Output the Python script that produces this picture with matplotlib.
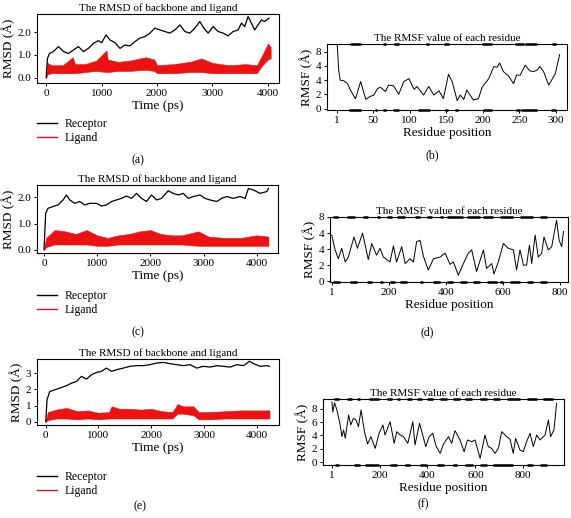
import numpy as np
import matplotlib
matplotlib.use("Agg")
import matplotlib.pyplot as plt
from matplotlib.lines import Line2D

plt.rcParams['font.family'] = ['Liberation Serif', 'DejaVu Serif']
plt.rcParams['font.size'] = 8

# ---------- RMSD data (a) ----------
a_rec_t = [0, 24, 60, 132, 222, 312, 402, 492, 582, 672, 762, 852, 942, 1002, 1080, 1152,
           1242, 1332, 1422, 1512, 1602, 1692, 1782, 1872, 1962, 2052, 2142, 2232, 2322,
           2412, 2502, 2592, 2682, 2772, 2844, 2922, 3012, 3102, 3192, 3282, 3372, 3462,
           3522, 3582, 3642, 3702, 3762, 3822, 3882, 3942, 4020]
a_rec_v = [0.0, 0.85, 1.07, 1.15, 1.37, 1.15, 1.07, 1.22, 1.37, 1.15, 1.29, 1.51, 1.63, 1.54,
           1.88, 1.66, 1.54, 1.29, 1.44, 1.40, 1.59, 1.74, 1.81, 1.96, 2.18, 2.10, 2.03, 1.96,
           2.10, 2.32, 2.03, 1.96, 2.18, 2.47, 2.18, 1.96, 2.25, 2.03, 1.96, 1.84, 2.03, 2.10,
           2.40, 2.25, 2.69, 2.40, 2.10, 2.32, 2.54, 2.47, 2.62]
a_lig_t = [0, 24, 100, 300, 480, 520, 700, 900, 1090, 1110, 1300, 1500, 1800, 1950, 2000,
           2300, 2600, 2800, 3000, 3300, 3600, 3800, 3900, 4000, 4050]
a_lig_lo = [0.0, 0.15, 0.2, 0.2, 0.2, 0.2, 0.25, 0.3, 0.25, 0.25, 0.3, 0.3, 0.35, 0.3, 0.2,
            0.2, 0.25, 0.25, 0.2, 0.2, 0.2, 0.2, 0.55, 0.8, 0.85]
a_lig_hi = [0.1, 0.65, 0.55, 0.55, 0.9, 0.6, 0.6, 0.75, 1.2, 0.8, 0.7, 0.75, 0.9, 0.8, 0.55,
            0.6, 0.7, 0.85, 0.65, 0.55, 0.6, 0.55, 1.0, 1.5, 1.35]

# ---------- RMSD data (c) ----------
c_rec_t = [0, 31, 75, 170, 264, 358, 421, 484, 578, 672, 766, 860, 986, 1080, 1174, 1269,
           1363, 1457, 1551, 1645, 1740, 1834, 1928, 2022, 2116, 2211, 2336, 2430, 2525,
           2619, 2713, 2807, 2933, 3027, 3121, 3247, 3341, 3435, 3561, 3687, 3781, 3844,
           3938, 4063, 4189, 4220]
c_rec_v = [0.0, 1.39, 1.58, 1.65, 1.71, 1.90, 2.09, 1.90, 1.77, 1.84, 1.71, 1.77, 1.77, 1.67,
           1.71, 1.84, 1.90, 1.96, 2.05, 1.96, 2.15, 1.96, 1.84, 2.09, 1.90, 1.96, 2.25, 2.15,
           2.09, 2.15, 1.96, 2.03, 2.09, 1.96, 1.90, 1.84, 1.96, 2.03, 1.96, 2.03, 1.96, 2.34,
           2.28, 2.15, 2.22, 2.34]
c_lig_t = [0, 40, 200, 400, 600, 800, 1000, 1200, 1400, 1600, 1800, 2000, 2200, 2400, 2600,
           2900, 3100, 3400, 3700, 4000, 4220]
c_lig_lo = [0.0, 0.1, 0.2, 0.2, 0.2, 0.2, 0.15, 0.15, 0.2, 0.2, 0.2, 0.2, 0.2, 0.2, 0.2,
            0.15, 0.15, 0.15, 0.15, 0.15, 0.15]
c_lig_hi = [0.05, 0.45, 0.75, 0.7, 0.6, 0.75, 0.55, 0.45, 0.55, 0.6, 0.7, 0.75, 0.6, 0.55,
            0.55, 0.7, 0.5, 0.45, 0.45, 0.55, 0.5]

# ---------- RMSD data (e) ----------
e_rec_t = [0, 25, 76, 171, 297, 392, 487, 582, 677, 772, 867, 962, 1057, 1152, 1247, 1342,
           1469, 1595, 1722, 1848, 1975, 2102, 2228, 2355, 2481, 2608, 2735, 2861, 2988,
           3114, 3241, 3368, 3494, 3621, 3747, 3861, 3937, 4064, 4190, 4241]
e_rec_v = [0.0, 1.35, 1.86, 1.97, 2.11, 2.22, 2.38, 2.48, 2.80, 2.63, 2.90, 3.04, 3.11, 3.31,
           3.11, 3.21, 3.31, 3.42, 3.46, 3.46, 3.52, 3.62, 3.66, 3.58, 3.52, 3.46, 3.52, 3.31,
           3.42, 3.37, 3.46, 3.42, 3.37, 3.52, 3.46, 3.73, 3.58, 3.42, 3.46, 3.42]
e_lig_t = [0, 40, 200, 400, 600, 800, 1000, 1200, 1250, 1400, 1600, 1800, 2000, 2200, 2400,
           2500, 2600, 2800, 2900, 3100, 3400, 3700, 4000, 4240]
e_lig_lo = [0.0, 0.1, 0.2, 0.2, 0.15, 0.2, 0.15, 0.2, 0.2, 0.2, 0.2, 0.2, 0.2, 0.2, 0.2,
            0.5, 0.5, 0.4, 0.15, 0.15, 0.2, 0.2, 0.2, 0.2]
e_lig_hi = [0.05, 0.6, 0.75, 0.85, 0.65, 0.7, 0.55, 0.6, 0.95, 0.8, 0.8, 0.75, 0.8, 0.65,
            0.6, 1.1, 0.95, 0.95, 0.6, 0.6, 0.65, 0.7, 0.7, 0.7]

# ---------- RMSF data (b) ----------
b_res = [1, 3, 5, 10, 15, 19, 24, 26, 33, 40, 46, 51, 56, 60, 67, 71, 78, 85, 92, 99, 106,
         110, 119, 126, 133, 140, 146, 153, 158, 165, 169, 174, 178, 187, 194, 199, 208, 215,
         219, 223, 228, 235, 242, 246, 251, 258, 264, 269, 274, 278, 283, 290, 294, 299, 305]
b_val = [8.9, 5.4, 4.0, 3.9, 3.5, 2.6, 1.7, 1.4, 3.8, 1.3, 1.7, 1.9, 2.8, 3.0, 2.4, 3.3, 3.2,
         2.0, 3.8, 4.2, 2.7, 3.1, 1.9, 3.1, 1.9, 2.5, 1.4, 4.8, 3.8, 1.1, 1.9, 1.3, 2.6, 1.2,
         1.4, 3.0, 4.2, 5.9, 5.8, 6.4, 5.2, 4.6, 3.5, 4.7, 4.7, 6.1, 5.3, 5.2, 5.4, 5.9, 5.2,
         3.3, 4.0, 4.9, 7.6]
b_top = [(18, 34), (63, 68), (79, 85), (122, 127), (147, 154), (199, 213), (244, 256),
         (258, 274), (294, 300)]
b_bot = [(17, 33), (53, 56), (64, 68), (77, 86), (112, 128), (148, 153), (162, 166),
         (200, 213), (245, 251), (252, 274), (293, 300)]

# ---------- RMSF data (d) ----------
d_res = [1, 13, 24, 36, 48, 59, 79, 91, 109, 129, 141, 158, 170, 182, 205, 217, 228, 246,
         258, 275, 287, 298, 310, 322, 339, 357, 380, 398, 415, 427, 444, 462, 479, 491, 508,
         532, 543, 561, 569, 584, 602, 619, 637, 648, 660, 672, 683, 693, 701, 713, 724, 736,
         744, 759, 771, 788, 797, 806, 812]
d_val = [5.75, 3.9, 2.8, 4.1, 2.4, 3.0, 5.5, 4.1, 6.0, 2.7, 4.7, 3.25, 4.1, 3.0, 2.4, 4.4,
         2.4, 4.3, 2.2, 2.8, 2.4, 4.9, 5.1, 3.1, 1.4, 2.8, 3.0, 3.5, 2.1, 2.4, 0.75, 2.2, 3.5,
         3.9, 1.2, 3.9, 1.6, 2.2, 0.9, 2.4, 4.7, 4.1, 3.9, 1.4, 3.9, 2.0, 2.0, 4.5, 2.2, 5.75,
         3.0, 3.5, 5.5, 3.9, 4.3, 7.6, 5.1, 4.3, 6.2]
d_top = [(7, 24), (54, 83), (112, 129), (158, 170), (193, 211), (228, 257), (292, 310),
         (333, 351), (380, 392), (403, 462), (473, 520), (532, 567), (590, 637), (660, 707),
         (730, 753)]
d_bot = [(7, 30), (65, 88), (123, 141), (170, 182), (205, 223), (240, 264), (310, 322),
         (357, 380), (403, 427), (450, 473), (497, 520), (543, 579), (590, 602), (625, 660),
         (683, 707), (730, 753)]

# ---------- RMSF data (f) ----------
f_res = [1, 5, 12, 22, 33, 39, 43, 50, 57, 71, 80, 91, 102, 112, 123, 137, 150, 164, 182,
         198, 214, 223, 244, 261, 272, 286, 300, 318, 339, 348, 367, 380, 393, 407, 422, 436,
         453, 467, 488, 501, 515, 536, 553, 567, 585, 599, 610, 620, 640, 654, 668, 682, 696,
         710, 731, 745, 758, 768, 786, 800, 814, 828, 842, 856, 870, 891, 905, 914, 928, 939]
f_val = [9.0, 7.5, 8.9, 7.8, 6.0, 4.8, 3.8, 4.8, 3.55, 7.05, 5.55, 6.55, 6.3, 5.3, 7.8,
         4.55, 2.7, 3.8, 2.05, 4.3, 5.55, 4.05, 6.05, 2.8, 4.55, 4.05, 3.8, 2.8, 6.05, 2.55,
         5.8, 4.05, 2.3, 3.8, 4.3, 2.4, 1.3, 2.7, 3.8, 2.8, 4.7, 3.3, 1.55, 3.3, 3.05, 3.3,
         1.8, 0.55, 4.05, 2.3, 2.05, 1.3, 2.05, 4.55, 3.8, 3.4, 1.3, 3.55, 1.8, 1.55, 3.05,
         4.3, 2.3, 4.05, 3.3, 4.05, 6.3, 3.8, 4.8, 8.8]
f_top = [(8, 29), (64, 85), (106, 120), (154, 196), (230, 251), (272, 286), (314, 335),
         (356, 377), (398, 425), (453, 481), (508, 536), (557, 585), (620, 648), (675, 703),
         (731, 787), (814, 856), (884, 926)]
f_bot = [(15, 29), (92, 120), (140, 196), (244, 272), (307, 328), (370, 397), (439, 467),
         (508, 522), (557, 592), (620, 648), (675, 759), (814, 842), (870, 898)]

W, H = 571, 518
fig = plt.figure(figsize=(W / 100, H / 100), dpi=100)


def px(l, t, r, b):
    return [l / W, 1 - b / H, (r - l) / W, (b - t) / H]


def style(ax):
    for s in ax.spines.values():
        s.set_linewidth(0.8)
    ax.tick_params(direction='out', length=2.5, width=0.7, labelsize=8, pad=1.5)


def rmsd_panel(rect, rt, rv, lt, lo, hi, xlim, ylim, yticks, ylabels, leg_y, lab_xy, lab):
    ax = fig.add_axes(px(*rect))
    ax.fill_between(lt, lo, hi, color='#ee1111', lw=0.4, ec='#ee1111')
    ax.plot(rt, rv, color='black', lw=0.9)
    ax.set_xlim(*xlim)
    ax.set_ylim(*ylim)
    ax.set_xticks([0, 1000, 2000, 3000, 4000])
    ax.set_yticks(yticks)
    ax.set_yticklabels(ylabels)
    ax.set_title('The RMSD of backbone and ligand', fontsize=8, pad=2)
    ax.set_xlabel('Time (ps)', fontsize=9.5, labelpad=2)
    ax.set_ylabel('RMSD (Å)', fontsize=9.5, labelpad=2)
    style(ax)
    handles = [Line2D([], [], color='black', lw=1), Line2D([], [], color='#ee1111', lw=1)]
    fig.legend(handles, ['Receptor', 'Ligand'], loc='upper left',
               bbox_to_anchor=(37 / W, 1 - leg_y / H), frameon=False, fontsize=8.5,
               borderpad=0, borderaxespad=0, handlelength=1.7, handletextpad=0.6,
               labelspacing=0.2)
    fig.text(lab_xy[0] / W, 1 - lab_xy[1] / H, lab, ha='center', va='center', fontsize=8.5)
    return ax


def rmsf_panel(rect, res, val, top, bot, xlim, ylim, xticks, xlabels, ylabels, lab_xy, lab):
    ax = fig.add_axes(px(*rect))
    ax.plot(res, val, color='black', lw=0.7)
    ax.set_xlim(*xlim)
    ax.set_ylim(*ylim)
    ax.set_xticks(xticks)
    ax.set_xticklabels(xlabels)
    ax.set_yticks([0, 2, 4, 6, 8])
    ax.set_yticklabels(ylabels)
    for s, e in top:
        ax.plot([s, e], [ylim[1], ylim[1]], color='black', lw=1.8, clip_on=False,
                solid_capstyle='butt')
    for s, e in bot:
        ax.plot([s, e], [ylim[0], ylim[0]], color='black', lw=1.8, clip_on=False,
                solid_capstyle='butt')
    ax.set_title('The RMSF value of each residue', fontsize=8, pad=2)
    ax.set_xlabel('Residue position', fontsize=9.5, labelpad=2)
    ax.set_ylabel('RMSF (Å)', fontsize=9.5, labelpad=2)
    style(ax)
    fig.text(lab_xy[0] / W, 1 - lab_xy[1] / H, lab, ha='center', va='center', fontsize=8.5)
    return ax


rmsd_panel((37, 14, 279, 83), a_rec_t, a_rec_v, a_lig_t, a_lig_lo, a_lig_hi,
           (-165, 4200), (-0.23, 2.8), [0, 1, 2], ['0.0', '1.0', '2.0'], 118, (138, 160), '(a)')
rmsd_panel((37, 185, 278, 253), c_rec_t, c_rec_v, c_lig_t, c_lig_lo, c_lig_hi,
           (-132, 4400), (-0.125, 2.47), [0, 1, 2], ['0.0', '1.0', '2.0'], 290, (138, 332), '(c)')
rmsd_panel((37, 359, 279, 425), e_rec_t, e_rec_v, e_lig_t, e_lig_lo, e_lig_hi,
           (-165, 4420), (-0.2, 3.87), [0, 1, 2, 3], ['0', '1', '2', '3'], 471, (140, 506), '(e)')

rmsf_panel((327, 44, 567, 110), b_res, b_val, b_top, b_bot, (-13, 315), (-0.2, 9.07),
           [1, 50, 100, 150, 200, 250, 300], ['1', '50', '100', '150', '200', '250', '300'],
           ['0', '2', '4', '4', '8'], (432, 155), '(b)')
rmsf_panel((330, 217, 568, 282), d_res, d_val, d_top, d_bot, (-5, 828), (-0.1, 8.0),
           [1, 200, 400, 600, 800], ['1', '200', '400', '600', '800'],
           ['0', '2', '4', '4', '8'], (427, 332), '(d)')
rmsf_panel((323, 399, 564, 465), f_res, f_val, f_top, f_bot, (-36, 970), (-0.45, 9.45),
           [1, 200, 400, 600, 800], ['1', '200', '400', '600', '800'],
           ['0', '2', '4', '6', '8'], (423, 504), '(f)')

fig.savefig('out.png', dpi=100)
